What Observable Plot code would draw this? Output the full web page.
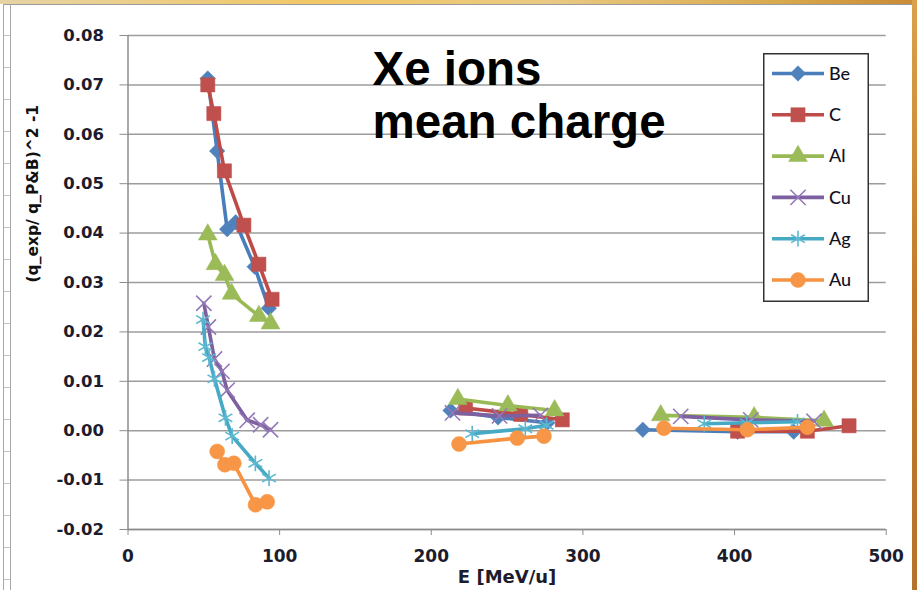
<!DOCTYPE html>
<html>
<head>
<meta charset="utf-8">
<script src="https://cdn.jsdelivr.net/npm/d3@7"></script>
<script src="https://cdn.jsdelivr.net/npm/@observablehq/plot@0.6"></script>
<style>
  html, body { margin: 0; padding: 0; background: #fff; overflow: hidden; }
  #page { position: relative; width: 917px; height: 590px; background: #fff; }
  #topstrip { position: absolute; left: 0; top: 0; width: 917px; height: 4px;
    background: linear-gradient(90deg, #e6d3a4, #f2c766 35%, #e9c983 60%, #d8a94e 85%, #c98a36); }
  #topline { position: absolute; left: 4px; top: 4px; width: 913px; height: 1px; background: #9a9a9a; }
  #rightstrip { position: absolute; right: 0; top: 0; width: 5px; height: 590px;
    background: linear-gradient(180deg, #d9a24a, #c27a2a 50%, #b5722c); }
  #leftrule { position: absolute; left: 3px; top: 4px; width: 6px; height: 586px;
    border-left: 1px solid #a8a8a8; border-right: 1px solid #a8a8a8;
    background: repeating-linear-gradient(180deg, transparent 0 31px, #c4c4c4 31px 32px); }
  #chart { position: absolute; left: 0; top: 0; }
  #legend { position: absolute; left: 763px; top: 53px; }
</style>
</head>
<body>
<div id="page">
  <div id="topstrip"></div>
  <div id="topline"></div>
  <div id="rightstrip"></div>
  <div id="leftrule"></div>
  <div id="chart"></div>
  <div id="legend"></div>
</div>
<script>
// Axis ticks
const xTicks = [0, 100, 200, 300, 400, 500];
const yTicks = [-0.02, -0.01, 0.00, 0.01, 0.02, 0.03, 0.04, 0.05, 0.06, 0.07, 0.08];

// Target elements (series names)
const targets = ["Be", "C", "Al", "Cu", "Ag", "Au"];

// Beam energy E [MeV/u] and (q_exp/q_P&B)^2 - 1 for each target
const beE = [52.6, 58.8, 65.4, 71.0, 83.5, 92.9, 212.7, 244.0, 276.5, 339.5, 402.0, 439.0];
const beQ = [0.0713, 0.0566, 0.0408, 0.0422, 0.0332, 0.0248, 0.0041, 0.0027, 0.0016, 0.0002, -0.0002, -0.0002];

const cE = [52.6, 56.6, 63.6, 76.4, 86.3, 95.0, 222.6, 259.0, 286.4, 402.0, 448.0, 475.5];
const cQ = [0.0700, 0.0642, 0.0526, 0.0416, 0.0337, 0.0266, 0.0046, 0.0033, 0.0022, -0.0001, -0.0001, 0.0010];

const alE = [52.6, 57.7, 63.7, 68.3, 86.3, 94.0, 217.5, 250.5, 281.3, 351.3, 412.9, 459.0];
const alQ = [0.0397, 0.0337, 0.0315, 0.0277, 0.0232, 0.0217, 0.0064, 0.0051, 0.0041, 0.0031, 0.0027, 0.0020];

const cuE = [50.0, 53.0, 57.0, 62.0, 65.4, 78.6, 87.5, 94.0, 214.0, 245.0, 272.0, 364.5, 410.7, 452.4];
const cuQ = [0.0258, 0.0210, 0.0145, 0.0120, 0.0082, 0.0021, 0.0012, 0.0002, 0.0036, 0.0030, 0.0031, 0.0029, 0.0022, 0.0019];

const agE = [49.5, 51.0, 53.5, 57.0, 64.3, 68.7, 84.0, 93.0, 227.0, 262.0, 276.0, 380.0, 408.0, 441.5];
const agQ = [0.0225, 0.0170, 0.0148, 0.0105, 0.0026, -0.0011, -0.0066, -0.0096, -0.0006, 0.0004, 0.0011, 0.0014, 0.0016, 0.0018];

const auE = [58.8, 63.9, 69.8, 84.1, 91.8, 218.3, 256.7, 274.3, 353.4, 408.4, 448.0];
const auQ = [-0.0042, -0.0069, -0.0066, -0.0150, -0.0144, -0.0027, -0.0015, -0.0011, 0.0005, 0.0002, 0.0007];

const energies = [beE, cE, alE, cuE, agE, auE];
const values = [beQ, cQ, alQ, cuQ, agQ, auQ];

// Styling per series
const lineColors = ["#4A7EBB", "#BE4B48", "#98B954", "#7D60A0", "#46AAC5", "#F69240"];
const markColors = ["#4F81BD", "#C0504D", "#9BBB59", "#9479B8", "#5CB8D0", "#F79646"];
const symbols = ["diamond2", "square", "triangle", "times", "asterisk", "circle"];
const d3Symbols = [d3.symbolDiamond2, d3.symbolSquare, d3.symbolTriangle, d3.symbolTimes, d3.symbolAsterisk, d3.symbolCircle];
const radii = [7, 8, 7, 7, 7.5, 7.5];
const filled = [true, true, true, false, false, true];

// Measurements fall in three energy runs; lines join points within one run only
const runOf = (e) => (e < 150 ? 0 : e < 320 ? 1 : 2);

const rows = targets.flatMap((t, i) =>
  energies[i].map((e, j) => ({target: t, E: e, q: values[i][j], run: runOf(e)}))
);

const seriesMarks = targets.flatMap((t, i) => {
  const data = rows.filter((d) => d.target === t);
  return [
    Plot.line(data, {x: "E", y: "q", z: "run", stroke: lineColors[i], strokeWidth: 3.6, strokeLinejoin: "round"}),
    Plot.dot(data, {
      x: "E", y: "q", symbol: () => symbols[i], r: radii[i],
      fill: filled[i] ? markColors[i] : "none",
      stroke: markColors[i], strokeWidth: filled[i] ? 0.5 : 1.6
    })
  ];
});

const chart = Plot.plot({
  width: 917,
  height: 590,
  marginLeft: 127.5,
  marginRight: 31.3,
  marginTop: 35,
  marginBottom: 61,
  style: {background: "transparent", fontFamily: "DejaVu Sans"},
  x: {domain: [0, 500]},
  y: {domain: [-0.02, 0.08]},
  symbol: {type: "identity"},
  marks: [
    Plot.gridY(yTicks, {stroke: "#9c9c9c", strokeOpacity: 1, strokeWidth: 1.5}),
    Plot.ruleX([0], {stroke: "#8c8c8c", strokeWidth: 1.5}),
    Plot.ruleY([-0.02], {stroke: "#8c8c8c", strokeWidth: 1.5}),
    Plot.axisY(yTicks, {
      tickFormat: (d) => d.toFixed(2), tickSize: 8, tickPadding: 16,
      stroke: "#8c8c8c", fill: "#1c1c2c", fontSize: 16.5, fontWeight: "bold", label: null
    }),
    Plot.axisX(xTicks, {
      tickFormat: (d) => String(d), tickSize: 6, tickPadding: 14,
      stroke: "#8c8c8c", fill: "#1c1c2c", fontSize: 17, fontWeight: "bold", label: null
    }),
    Plot.text(["E [MeV/u]"], {
      text: (d) => d, frameAnchor: "bottom", dy: 41, lineAnchor: "top",
      fontSize: 18, fontWeight: "bold", fill: "#1c1c2c"
    }),
    Plot.text(["(q_exp/ q_P&B)^2 -1"], {
      text: (d) => d, frameAnchor: "left", dx: -94.5, rotate: -90,
      fontSize: 15.5, fontWeight: "bold", fill: "#111"
    }),
    ...seriesMarks,
    Plot.text(["Xe ions\nmean charge"], {
      text: (d) => d, frameAnchor: "top-left", textAnchor: "start", lineAnchor: "top",
      dx: 244.5, dy: 11, fontSize: 47.5, fontWeight: "bold", lineHeight: 1.13,
      fontFamily: "Liberation Sans", fill: "#000"
    })
  ]
});
document.getElementById("chart").appendChild(chart);

// Legend box
const legW = 106, legH = 249, rowGap = 41.3, firstRow = 20.5;
const leg = d3.select("#legend").append("svg")
  .attr("width", legW).attr("height", legH)
  .style("display", "block");
leg.append("rect")
  .attr("x", 0.75).attr("y", 0.75)
  .attr("width", legW - 1.5).attr("height", legH - 1.5)
  .attr("fill", "#fff").attr("stroke", "#333").attr("stroke-width", 1.5);
targets.forEach((t, i) => {
  const cy = firstRow + i * rowGap;
  const g = leg.append("g").attr("transform", `translate(0,${cy})`);
  g.append("line")
    .attr("x1", 9).attr("x2", 61).attr("y1", 0).attr("y2", 0)
    .attr("stroke", lineColors[i]).attr("stroke-width", 3.6);
  g.append("path")
    .attr("transform", "translate(35,0)")
    .attr("d", d3.symbol(d3Symbols[i], Math.PI * radii[i] * radii[i])())
    .attr("fill", filled[i] ? markColors[i] : "none")
    .attr("stroke", markColors[i])
    .attr("stroke-width", filled[i] ? 0.5 : 1.6);
  g.append("text")
    .attr("x", 66).attr("y", 0).attr("dy", "0.35em")
    .attr("font-family", "Lato").attr("font-size", 18)
    .attr("font-weight", 500)
    .attr("fill", "#111122")
    .text(t);
});
</script>
</body>
</html>
